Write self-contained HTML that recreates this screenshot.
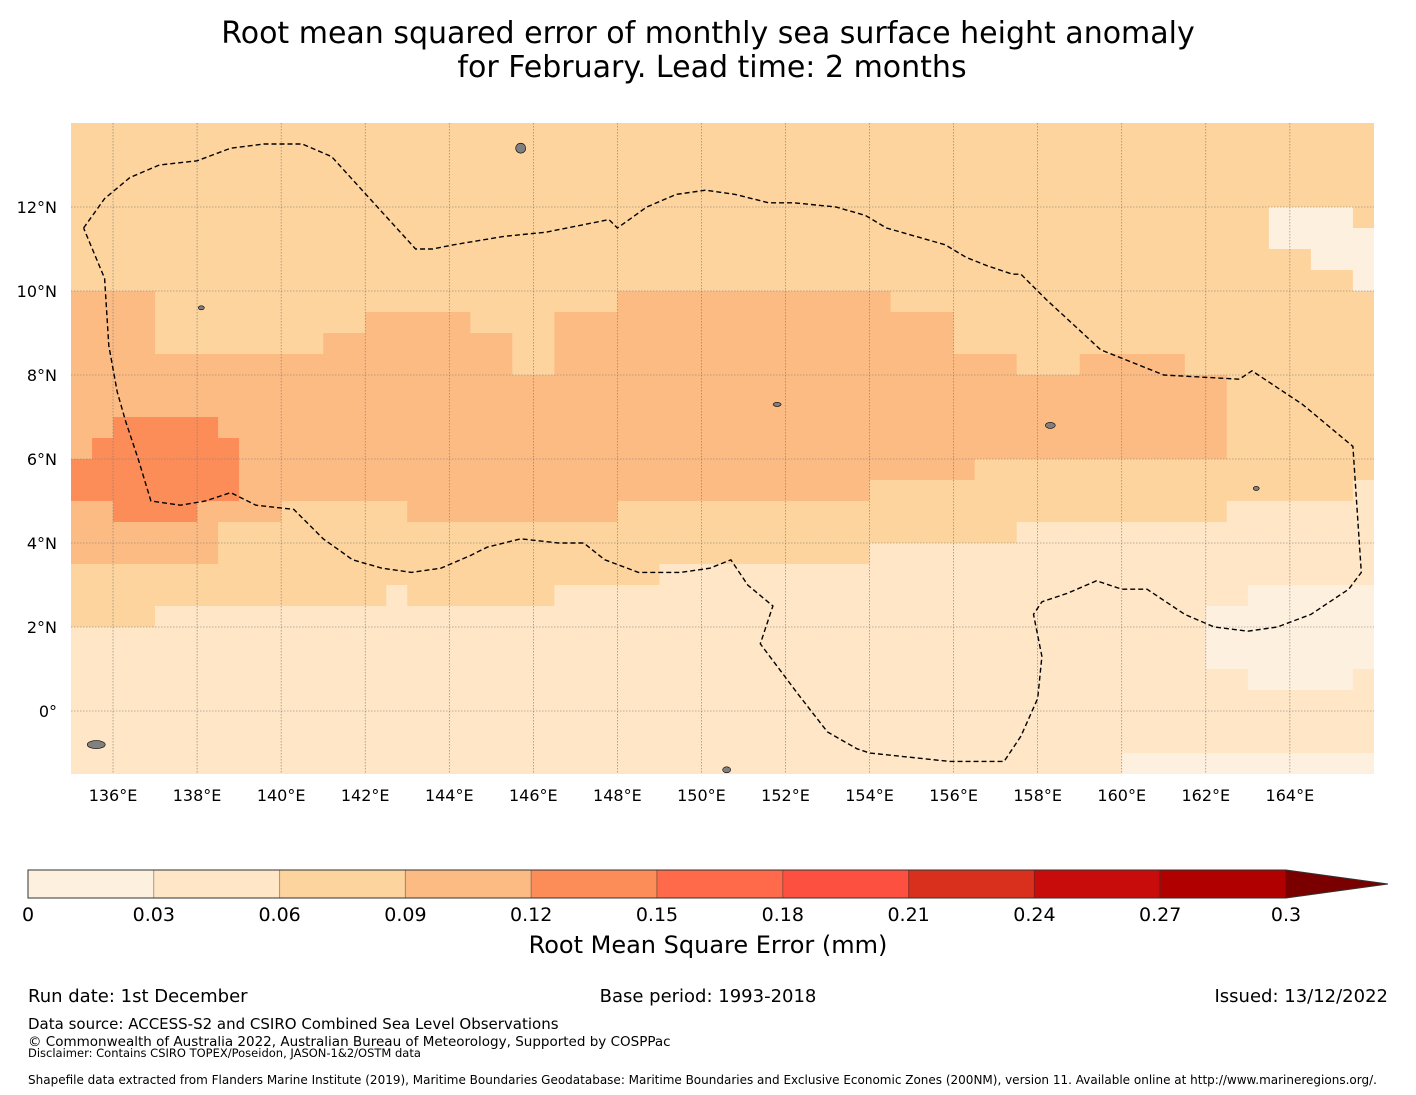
<!DOCTYPE html>
<html><head><meta charset="utf-8"><style>
html,body{margin:0;padding:0;background:#fff;}
svg{display:block;font-family:"DejaVu Sans","Liberation Sans",sans-serif;}
</style></head><body>
<svg id="chart" width="1416" height="1095" viewBox="0 0 1416 1095" xmlns="http://www.w3.org/2000/svg">
<text x="708" y="43" font-size="30" text-anchor="middle" fill="#000">Root mean squared error of monthly sea surface height anomaly</text>
<text x="712" y="77" font-size="30" text-anchor="middle" fill="#000">for February. Lead time: 2 months</text>
<g id="map"></g>
<g id="cbar"></g>
<text x="708" y="953" font-size="24" text-anchor="middle">Root Mean Square Error (mm)</text>
<text x="28" y="1002" font-size="18">Run date: 1st December</text>
<text x="708" y="1002" font-size="18" text-anchor="middle">Base period: 1993-2018</text>
<text x="1388" y="1002" font-size="18" text-anchor="end">Issued: 13/12/2022</text>
<text x="28" y="1029" font-size="15">Data source: ACCESS-S2 and CSIRO Combined Sea Level Observations</text>
<text x="28" y="1046" font-size="13.5">© Commonwealth of Australia 2022, Australian Bureau of Meteorology, Supported by COSPPac</text>
<text x="28" y="1057" font-size="11.5">Disclaimer: Contains CSIRO TOPEX/Poseidon, JASON-1&amp;2/OSTM data</text>
<text x="28" y="1084" font-size="12">Shapefile data extracted from Flanders Marine Institute (2019), Maritime Boundaries Geodatabase: Maritime Boundaries and Exclusive Economic Zones (200NM), version 11. Available online at http://www.marineregions.org/.</text>
</svg>
<script>
// Field rows (RLE, 0.5° cells, from 14°N southward, 135°E eastward). a..e = colour classes
const fieldRows = [
"c62","c62","c62","c62",
"c57a4c1","c57a5","c59a3","c61a1",
"d4c22d13c23","d4c10d5c4d19c20","d4c8d9c2d19c20","d21c2d22c3d5c9",
"d55c7","d55c7","d2e5d48c7","d1e7d47c7",
"e8d35c19","e8d30c23b1","d2e4d4c6d10c29b7","d7c38b17",
"d7c31b24","c28b34","c15b1c7b33a6","c4b50a8",
"b54a8","b54a8","b56a5b1","b62","b62","b62","b50a12"
];
const levelBounds = [0,0.03,0.06,0.09,0.12,0.15,0.18,0.21,0.24,0.27,0.3];
const levelColors = ["#fef0df","#fee6c6","#fdd49e","#fdbb84","#fc8d59","#fe6a4a","#fe5040","#d9301e","#c80c0c","#b00000"];
const classKeys = ["a","b","c","d","e"];
const lonTicks = [136,138,140,142,144,146,148,150,152,154,156,158,160,162,164];
const latTicks = [12,10,8,6,4,2,0];
const cellDeg = 0.5;
const eez = [[135.3,11.5],[135.8,12.2],[136.4,12.7],[137.1,13.0],[138,13.1],[138.8,13.4],[139.6,13.5],[140.5,13.5],[141.2,13.2],[142.2,12.1],[143.2,11.0],[143.6,11.0],[144.1,11.1],[145.3,11.3],[146.3,11.4],[147.8,11.7],[148,11.5],[148.7,12.0],[149.4,12.3],[150.1,12.4],[150.8,12.3],[151.6,12.1],[152.2,12.1],[153.2,12.0],[153.9,11.8],[154.4,11.5],[155.1,11.3],[155.8,11.1],[156.3,10.8],[156.8,10.6],[157.4,10.4],[157.6,10.4],[158.2,9.8],[159.5,8.6],[161.0,8.0],[162.8,7.9],[163.1,8.1],[164.3,7.3],[165.5,6.3],[165.7,3.3],[165.4,2.9],[164.5,2.3],[163.7,2.0],[163.0,1.9],[162.2,2.0],[161.5,2.3],[160.9,2.7],[160.6,2.9],[160.0,2.9],[159.4,3.1],[158.7,2.8],[158.1,2.6],[157.9,2.3],[158.1,1.3],[158.0,0.3],[157.6,-0.6],[157.2,-1.2],[155.9,-1.2],[154.0,-1.0],[153.7,-0.9],[153.0,-0.5],[152.3,0.4],[151.7,1.2],[151.4,1.6],[151.5,1.9],[151.7,2.5],[151.1,3.0],[150.7,3.6],[150.2,3.4],[149.5,3.3],[148.5,3.3],[147.7,3.6],[147.2,4.0],[146.6,4.0],[145.7,4.1],[144.9,3.9],[144.5,3.7],[143.8,3.4],[143.1,3.3],[142.4,3.4],[141.7,3.6],[141.0,4.1],[140.3,4.8],[139.4,4.9],[138.8,5.2],[138.2,5.0],[137.6,4.9],[136.9,5.0],[136.6,6.0],[136.3,6.9],[136.1,7.6],[135.9,8.7],[135.8,10.3],[135.3,11.5]];

const NS="http://www.w3.org/2000/svg";
const X0=71,X1=1374,Y0=123,Y1=774,LON0=135,LAT0=14,PPD=42.03;
const xs=lon=>X0+(lon-LON0)*PPD, ys=lat=>Y0+(LAT0-lat)*42;
function mk(tag,attrs,parent){const e=document.createElementNS(NS,tag);for(const k in attrs)e.setAttribute(k,attrs[k]);parent.appendChild(e);return e;}
const map=document.getElementById('map');
const defs=mk('defs',{},map);const cp=mk('clipPath',{id:'clip'},defs);mk('rect',{x:X0,y:Y0,width:X1-X0,height:Y1-Y0},cp);
const cells=mk('g',{'clip-path':'url(#clip)'},map);


fieldRows.forEach((rle,r)=>{
  let c=0;const re=/([a-e])(\d+)/g;let m;
  while((m=re.exec(rle))){
    const n=+m[2];const ci=classKeys.indexOf(m[1]);
    const lonA=LON0+c*cellDeg, lonB=LON0+(c+n)*cellDeg, latA=LAT0-r*cellDeg, latB=LAT0-(r+1)*cellDeg;
    const rect=mk('rect',{x:xs(lonA),y:ys(latA),width:xs(lonB)-xs(lonA)+0.6,height:ys(latB)-ys(latA)+0.6,fill:levelColors[ci]},cells);
    
    
    c+=n;
  }
});
lonTicks.forEach(l=>{
  const ln=mk('line',{x1:xs(l),x2:xs(l),y1:Y0,y2:Y1,stroke:'#777','stroke-width':0.6,'stroke-dasharray':'1.5,1.5'},map);
  
  
  const t=mk('text',{x:xs(l),y:801,'font-size':16,'text-anchor':'middle'},map);t.textContent=l+'°E';
  
  
});
latTicks.forEach(l=>{
  const ln=mk('line',{x1:X0,x2:X1,y1:ys(l),y2:ys(l),stroke:'#777','stroke-width':0.6,'stroke-dasharray':'1.5,1.5'},map);
  
  
  const t=mk('text',{x:57,y:ys(l)+6,'font-size':16,'text-anchor':'end'},map);t.textContent=l===0?'0°':l+'°N';
  
  
});
[[145.7,13.4,5,5],[135.6,-0.8,9,4],[150.6,-1.4,4,3],[151.8,7.3,4,2],[158.3,6.8,5,3],[163.2,5.3,3,2],[138.1,9.6,3,2]].forEach(p=>{
  const e=mk('ellipse',{cx:xs(p[0]),cy:ys(p[1]),rx:p[2],ry:p[3],fill:'#808080',stroke:'#000','stroke-width':0.6},map);
  
  
});
const eezPath=mk('path',{d:'M'+eez.map(p=>xs(p[0]).toFixed(1)+','+ys(p[1]).toFixed(1)).join('L'),fill:'none',stroke:'#000','stroke-width':1.4,'stroke-dasharray':'5,3'},map);


const cb=document.getElementById('cbar');
const CX0=28,CX1=1286,CY=870,CH=28;
const cx=v=>CX0+(v-levelBounds[0])/(levelBounds[levelBounds.length-1]-levelBounds[0])*(CX1-CX0);
levelColors.forEach((col,i)=>{
  const r=mk('rect',{x:cx(levelBounds[i]),y:CY,width:cx(levelBounds[i+1])-cx(levelBounds[i]),height:CH,fill:col,stroke:'rgba(0,0,0,0.25)','stroke-width':1},cb);
  
  
});
const tri=mk('path',{d:`M${CX1},${CY}L1388,${CY+CH/2}L${CX1},${CY+CH}Z`,fill:'#7a0000'},cb);


mk('path',{d:`M${CX1},${CY}L1388,${CY+CH/2}L${CX1},${CY+CH}L${CX0},${CY+CH}L${CX0},${CY}Z`,fill:'none',stroke:'#333','stroke-width':1},cb);
levelBounds.forEach(v=>{
  const t=mk('text',{x:cx(v),y:921,'font-size':19,'text-anchor':'middle'},cb);t.textContent=String(v);
  
  
});
</script>
</body></html>
